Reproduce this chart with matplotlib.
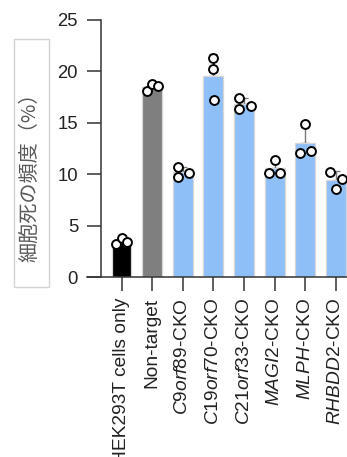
import numpy as np
import matplotlib
matplotlib.use("Agg")
import matplotlib.pyplot as plt
from matplotlib.patches import Rectangle
from matplotlib.lines import Line2D

plt.rcParams['font.family'] = ['Liberation Sans', 'Noto Sans CJK JP', 'DejaVu Sans']
plt.rcParams['mathtext.fontset'] = 'custom'
plt.rcParams['mathtext.rm'] = 'Liberation Sans'
plt.rcParams['mathtext.it'] = 'Liberation Sans:italic'
plt.rcParams['mathtext.bf'] = 'Liberation Sans:bold'

# ---- data ----
categories = ["HEK293T cells only", "Non-target", r"$\mathit{C9orf89}$-CKO",
              r"$\mathit{C19orf70}$-CKO", r"$\mathit{C21orf33}$-CKO",
              r"$\mathit{MAGI2}$-CKO", r"$\mathit{MLPH}$-CKO", r"$\mathit{RHBDD2}$-CKO"]
hek = [3.18, 3.76, 3.40]
nontarget = [18.09, 18.74, 18.55]
c9orf89 = [10.73, 9.70, 10.15]
c19orf70 = [21.27, 20.20, 17.22]
c21orf33 = [17.45, 16.31, 16.67]
magi2 = [10.15, 11.38, 10.15]
mlph = [12.03, 14.85, 12.26]
rhbdd2 = [10.25, 8.56, 9.50]
replicates = [hek, nontarget, c9orf89, c19orf70, c21orf33, magi2, mlph, rhbdd2]
yticks = [0, 5, 10, 15, 20, 25]
ylabel = "細胞死の頻度（%）"

# dot jitter (x offsets within each bar)
jitter = [[-0.19, 0.0, 0.18], [-0.17, 0.0, 0.2], [-0.16, -0.16, 0.2], [0.0, 0.0, 0.02],
          [-0.18, -0.18, 0.22], [-0.18, 0.0, 0.18], [-0.17, 0.0, 0.2], [-0.2, 0.0, 0.2]]
colors = ['#000000', '#7f7f7f'] + ['#8fbff7'] * 6

W, H = 347, 457
fig = plt.figure(figsize=(W / 100, H / 100), dpi=100)
ax = fig.add_axes([101 / W, (H - 277) / H, (W - 101) / W, 257 / H])

x = np.arange(len(categories))
means = [np.mean(r) for r in replicates]
sds = [np.std(r, ddof=1) for r in replicates]

ax.errorbar(x, means, yerr=[np.zeros(len(x)), sds], fmt='none', ecolor='#777777',
            elinewidth=1.0, capsize=3, capthick=1.0, zorder=1)
ax.bar(x, means, width=0.65, color=colors, edgecolor='#d6d6d6', linewidth=0.9, zorder=2)
for i, r in enumerate(replicates):
    ax.plot(np.array(jitter[i]) + i, r, 'o', ms=6.4, mfc='white', mec='black', mew=1.4,
            zorder=3, clip_on=False)

ax.set_xlim(-0.67, 7.36)
ax.set_ylim(0, 25)
ax.set_yticks(yticks)
ax.set_yticklabels([str(t) for t in yticks])
ax.set_xticks(x)
ax.set_xticklabels(categories, rotation=90, ha='center', va='top')

for s in ['top', 'right']:
    ax.spines[s].set_visible(False)
for s in ['left', 'bottom']:
    ax.spines[s].set_color('#333333')
    ax.spines[s].set_linewidth(1.1)
ax.spines['bottom'].set_visible(False)
ax.add_line(Line2D([-14 / 246, 1.0], [0, 0], transform=ax.transAxes, color='#333333',
                   lw=1.1, clip_on=False))

ax.tick_params(axis='both', length=10, width=1.1, color='#333333', direction='out')
ax.tick_params(axis='y', labelsize=13.3, labelcolor='#222222', pad=6.5)
ax.tick_params(axis='x', labelsize=13.8, labelcolor='#222222', pad=5)

# y label in a box
fig.patches.append(Rectangle((14.3 / W, (H - 287) / H), 35 / W, 248 / H,
                             transform=fig.transFigure, fill=False,
                             edgecolor='#d4d4d4', linewidth=1.0))
fig.text(30 / W, 1 - 172 / H, ylabel, rotation=90, ha='center', va='center',
         fontsize=14.5, color='#595959', family=['Noto Sans CJK JP', 'DejaVu Sans'])

fig.savefig('out.png', dpi=100)
